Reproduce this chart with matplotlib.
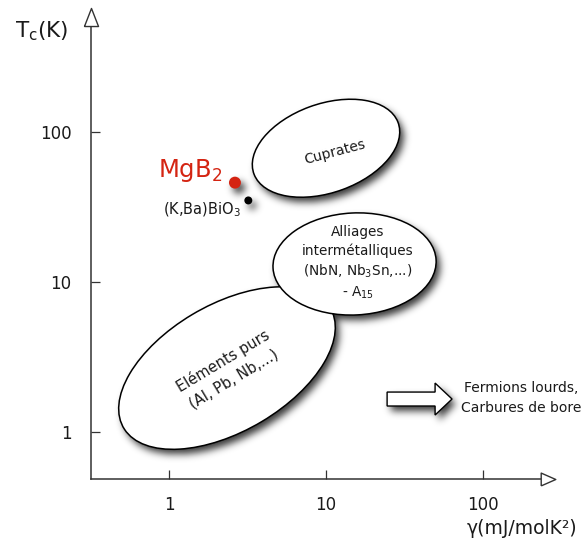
import numpy as np
import matplotlib
matplotlib.use("Agg")
import matplotlib.pyplot as plt
from matplotlib.patches import Ellipse, FancyArrow
from matplotlib.ticker import NullLocator

plt.rcParams["font.family"] = ["DejaVu Sans"]
plt.rcParams["mathtext.default"] = "regular"

# ---- values -------------------------------------------------------------
tick_values = [1, 10, 100]
tick_labels = ["1", "10", "100"]

# families of superconductors: centre (gamma, Tc), extent in decades, tilt
family_labels = [
    "Cuprates",
    "Eléments purs\n(Al, Pb, Nb,...)",
    "Alliages\nintermétalliques\n(NbN, Nb$_3$Sn,...)\n- A$_{15}$",
]
family_gamma = [10.0, 2.34, 15.2]
family_tc = [78.0, 2.67, 13.2]
family_width = [0.98, 1.54, 1.04]
family_height = [0.59, 0.84, 0.68]
family_tilt = [21, 32, 3]

# individual compounds
compounds = ["MgB$_2$", "(K,Ba)BiO$_3$"]
compound_gamma = [2.63, 3.2]
compound_tc = [46.0, 35.0]

# materials beyond the plotted range
beyond_label = "Fermions lourds,\nCarbures de bore"
beyond_gamma = [24.5, 63.5]
beyond_tc = 1.66

ink = "#1a1a1a"
red = "#d42412"

# ---- figure -------------------------------------------------------------
W, H = 581, 550
fig = plt.figure(figsize=(W / 100, H / 100), dpi=100)
ax = fig.add_axes([91 / W, 71 / H, (548 - 91) / W, (479 - 17) / H])
ax.set_xscale("log")
ax.set_yscale("log")
ax.set_xlim(10 ** -0.497, 10 ** 2.414)
ax.set_ylim(10 ** -0.313, 10 ** 2.767)
ax.patch.set_visible(False)

for side in ("top", "right"):
    ax.spines[side].set_visible(False)
for side in ("left", "bottom"):
    ax.spines[side].set_linewidth(1.1)
    ax.spines[side].set_color("#333333")

ax.set_xticks(tick_values, tick_labels)
ax.set_yticks(tick_values, tick_labels)
ax.xaxis.set_minor_locator(NullLocator())
ax.yaxis.set_minor_locator(NullLocator())
ax.tick_params(direction="in", length=6.5, width=0.9, color="#333333",
               labelsize=12, labelcolor=ink)
ax.tick_params(axis="x", pad=12)
ax.tick_params(axis="y", pad=14)

# open arrow heads at the ends of both axes
ax.plot([0], [1], transform=ax.transAxes, clip_on=False, zorder=5,
        marker=[(-0.78, -1), (0.78, -1), (0, 1), (-0.78, -1)], ms=13,
        mfc="white", mec="#333333", mew=1.0)
ax.plot([1], [0], transform=ax.transAxes, clip_on=False, zorder=5,
        marker=[(-1, -0.88), (-1, 0.88), (1, 0), (-1, -0.88)], ms=10.5,
        mfc="white", mec="#333333", mew=1.0)

fig.text(15 / W, 1 - 37 / H, r"T$_\mathregular{c}$(K)", fontsize=15.5,
         color=ink, ha="left", va="baseline")
fig.text(577 / W, 1 - 529 / H, "γ(mJ/molK²)", fontsize=13.5,
         color=ink, ha="right", va="center")

# ---- family regions (drawn in decade coordinates) -----------------------
log_space = ax.transLimits + ax.transAxes
casters = []
for z, i in enumerate(range(len(family_labels))):
    e = Ellipse((np.log10(family_gamma[i]), np.log10(family_tc[i])),
                family_width[i], family_height[i], angle=family_tilt[i],
                transform=log_space, facecolor="white", edgecolor="black",
                linewidth=1.1, zorder=2 + z, clip_on=False)
    ax.add_patch(e)
    casters.append(e)

ax.text(11.4, 73.6, family_labels[0], rotation=15, fontsize=10,
        color=ink, ha="center", va="center", rotation_mode="anchor", zorder=6)
ax.text(2.38, 2.59, family_labels[1], rotation=31, fontsize=10.5,
        color=ink, ha="center", va="center", rotation_mode="anchor",
        multialignment="center", linespacing=1.45, zorder=6)
ax.text(15.9, 13.4, family_labels[2], fontsize=9.8, color=ink,
        ha="center", va="center", multialignment="center",
        linespacing=1.35, zorder=6)

# ---- arrow towards larger gamma -------------------------------------------
g0, g1 = np.log10(beyond_gamma[0]), np.log10(beyond_gamma[1])
arrow = FancyArrow(g0, np.log10(beyond_tc), g1 - g0, 0, width=0.093,
                   head_width=0.213, head_length=0.108, length_includes_head=True,
                   transform=log_space, facecolor="white", edgecolor="black",
                   linewidth=1.0, zorder=4, clip_on=False)
ax.add_patch(arrow)
casters.append(arrow)
ax.text(174, 1.69, beyond_label, fontsize=10, color=ink, ha="center",
        va="center", multialignment="center", linespacing=1.5, zorder=6,
        clip_on=False)

# ---- compounds -----------------------------------------------------------
dot_sizes = [74, 33]
dot_colors = [red, "black"]
ax.scatter(compound_gamma, compound_tc, s=dot_sizes, c=dot_colors,
           linewidths=0, zorder=7)
ax.annotate(compounds[0], (compound_gamma[0], compound_tc[0]),
            xytext=(-9, 4), textcoords="offset points", ha="right",
            va="baseline", fontsize=17.5, color=red, zorder=7)
ax.annotate(compounds[1], (compound_gamma[1], compound_tc[1]),
            xytext=(-5, -6.5), textcoords="offset points", ha="right",
            va="center", fontsize=10.5, color=ink, zorder=7)

# ---- soft drop shadow under the shapes and dots -------------------------
yy, xx = np.mgrid[0:H, 0:W] + 0.5
pts = np.column_stack([xx.ravel(), yy.ravel()])
mask = np.zeros(H * W, dtype=bool)
for p in casters:
    path = p.get_transform().transform_path(p.get_path())
    mask |= path.contains_points(pts)
mask = mask.reshape(H, W).astype(float)
dot_px = ax.transData.transform(np.column_stack([compound_gamma, compound_tc]))
for (cx, cy), s in zip(dot_px, dot_sizes):
    r = np.sqrt(s) / 2 * 100 / 72
    mask[(xx - cx) ** 2 + (yy - cy) ** 2 <= r ** 2] = 1.0


def blur(img, sigma):
    r = int(3 * sigma)
    k = np.exp(-0.5 * (np.arange(-r, r + 1) / sigma) ** 2)
    k /= k.sum()
    img = np.apply_along_axis(lambda v: np.convolve(v, k, mode="same"), 0, img)
    return np.apply_along_axis(lambda v: np.convolve(v, k, mode="same"), 1, img)


shadow = np.roll(np.roll(mask, 4, axis=1), -5, axis=0)
shadow = blur(shadow, 3.8)
rgba = np.zeros((H, W, 4))
rgba[..., 3] = 0.78 * shadow
fig.figimage(rgba, 0, 0, origin="lower", zorder=-1)

fig.savefig("out.png", dpi=100)
